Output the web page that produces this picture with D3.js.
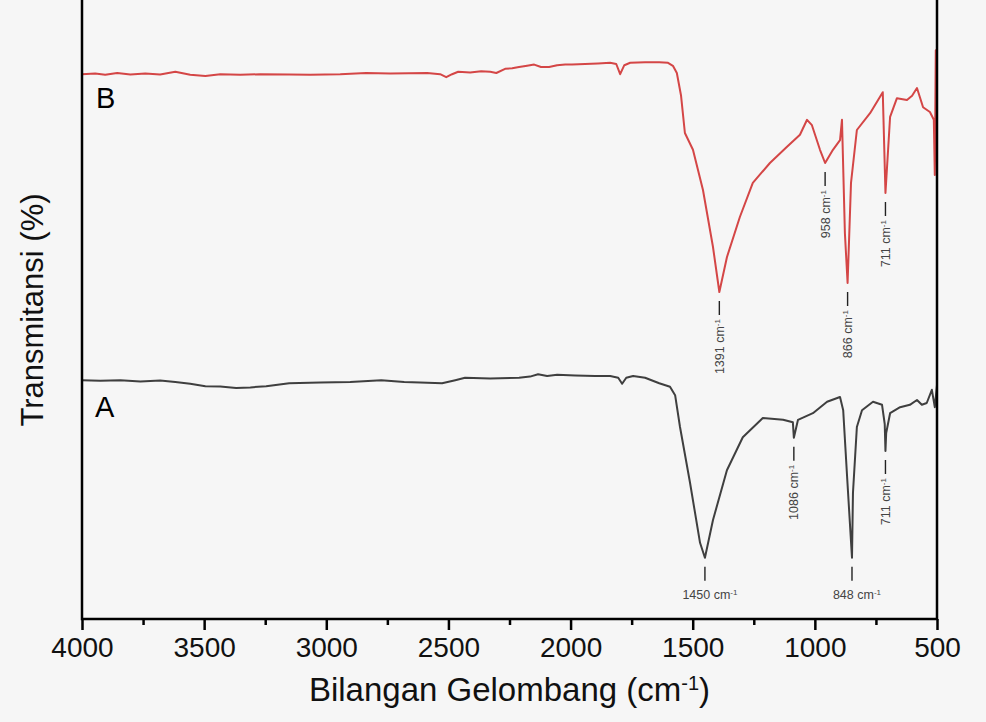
<!DOCTYPE html>
<html>
<head>
<meta charset="utf-8">
<script src="https://cdn.jsdelivr.net/npm/d3@7"></script>
<style>
  body { margin: 0; background: #f6f6f6; }
  svg { display: block; font-family: "Liberation Sans", Arial, sans-serif; }
</style>
</head>
<body>
<svg width="986" height="722"></svg>
<script>
// spectrum B (red) : [wavenumber cm-1, transmittance]
var seriesB = [
  [4000,90.8],[3946,90.9],[3905,90.7],[3856,91.0],[3802,90.75],[3741,90.9],[3680,90.75],
  [3618,91.2],[3557,90.7],[3495,90.5],[3434,90.8],[3352,90.7],[3270,90.8],[3152,90.75],
  [3066,90.7],[2943,90.8],[2837,91.0],[2738,90.9],[2587,91.0],[2534,90.8],[2509,90.3],
  [2485,90.8],[2460,91.2],[2411,91.1],[2366,91.3],[2329,91.2],[2304,91.0],[2268,91.7],
  [2239,91.8],[2211,92.0],[2178,92.2],[2149,92.4],[2121,92.0],[2088,92.0],[2055,92.3],
  [2022,92.4],[1994,92.4],[1941,92.5],[1888,92.6],[1838,92.7],[1813,92.5],[1797,90.8],
  [1780,92.3],[1756,92.7],[1695,92.8],[1637,92.8],[1601,92.7],[1581,92.2],[1565,91.0],
  [1548,87.3],[1532,81.0],[1499,78.2],[1458,71.5],[1417,62.0],[1391,54.5],[1360,60.3],
  [1307,67.0],[1254,72.7],[1184,76.0],[1114,78.7],[1061,80.7],[1032,83.2],[1012,82.3],
  [979,78.2],[958,76.0],[926,78.2],[897,79.8],[889,83.2],[877,64.3],[866,56.0],[852,72.7],
  [828,81.5],[774,84.3],[722,87.8],[711,71.0],[692,83.7],[664,86.8],[623,86.5],[602,87.2],
  [582,88.5],[557,85.3],[529,84.5],[513,83.2],[509,74.0],[505,94.8],[500,74.8]
];

// spectrum A (dark grey)
var seriesA = [
  [4000,39.8],[3925,39.7],[3843,39.8],[3761,39.6],[3680,39.75],[3618,39.5],[3557,39.2],
  [3495,38.8],[3434,38.75],[3369,38.5],[3311,38.6],[3246,38.8],[3152,39.3],[3025,39.4],
  [2902,39.5],[2775,39.8],[2681,39.5],[2616,39.4],[2526,39.3],[2472,39.8],[2432,40.2],
  [2329,40.1],[2211,40.2],[2166,40.4],[2133,40.8],[2096,40.5],[2055,40.7],[1981,40.6],
  [1900,40.5],[1838,40.5],[1805,40.2],[1789,39.2],[1772,40.2],[1744,40.5],[1695,40.2],
  [1637,39.3],[1593,38.7],[1572,37.3],[1552,32.0],[1511,22.7],[1470,12.7],[1450,10.2],
  [1417,16.5],[1360,24.8],[1295,30.3],[1213,33.5],[1130,33.2],[1090,32.8],[1086,30.2],
  [1069,33.2],[1008,34.3],[950,36.2],[897,37.0],[884,34.8],[868,23.7],[848,10.2],[844,21.0],
  [828,32.0],[807,34.8],[762,36.2],[725,35.7],[714,32.5],[711,28.0],[708,31.0],[692,34.3],
  [651,35.3],[611,35.7],[582,36.5],[562,35.7],[542,36.0],[521,38.2],[509,35.3],[500,39.0]
];

// peak annotations
var peaksB = [
  {wn: 1391, text: "1391", dir: "v"},
  {wn: 958,  text: "958",  dir: "v"},
  {wn: 866,  text: "866",  dir: "v"},
  {wn: 711,  text: "711",  dir: "v"}
];
var peaksA = [
  {wn: 1450, text: "1450", dir: "h"},
  {wn: 1086, text: "1086", dir: "v"},
  {wn: 848,  text: "848",  dir: "h"},
  {wn: 711,  text: "711",  dir: "v"}
];

var majorTicks = [4000, 3500, 3000, 2500, 2000, 1500, 1000, 500];
var minorTicks = [3750, 3250, 2750, 2250, 1750, 1250, 750];

var svg = d3.select("svg");
var plotLeft = 82, plotRight = 937, plotBottom = 619, plotTop = 19;

var x = d3.scaleLinear().domain([4000, 500]).range([plotLeft, plotRight]);
var y = d3.scaleLinear().domain([0, 100]).range([plotBottom, plotTop]);

var line = d3.line()
  .x(function(d) { return x(d[0]); })
  .y(function(d) { return y(d[1]); });

svg.append("path")
  .datum(seriesA)
  .attr("d", line)
  .attr("fill", "none")
  .attr("stroke", "#3f3f3f")
  .attr("stroke-width", 2)
  .attr("stroke-linejoin", "round");

svg.append("path")
  .datum(seriesB)
  .attr("d", line)
  .attr("fill", "none")
  .attr("stroke", "#d44646")
  .attr("stroke-width", 2)
  .attr("stroke-linejoin", "round");

// peak labels
function addPeaks(peaks, series) {
  peaks.forEach(function(p) {
    var pt = series.reduce(function(a, b) {
      return Math.abs(b[0] - p.wn) < Math.abs(a[0] - p.wn) ? b : a;
    });
    var px = x(pt[0]), py = y(pt[1]);
    var y0 = py + 9, y1 = py + 23;
    svg.append("line")
      .attr("x1", px).attr("x2", px)
      .attr("y1", y0).attr("y2", y1)
      .attr("stroke", "#222")
      .attr("stroke-width", 1.4);
    var t = svg.append("text")
      .attr("font-size", 12.5)
      .attr("fill", "#444");
    if (p.dir == "v") {
      t.attr("text-anchor", "end")
        .attr("transform", "translate(" + (px + 4.5) + "," + (y1 + 4) + ") rotate(-90)");
    } else {
      t.attr("text-anchor", "middle")
        .attr("x", px + 5)
        .attr("y", y1 + 18);
    }
    t.append("tspan").text(p.text + " cm");
    t.append("tspan").attr("font-size", 8).attr("baseline-shift", "super").text("-1");
  });
}
addPeaks(peaksB, seriesB);
addPeaks(peaksA, seriesA);

// series letters
svg.append("text").attr("x", 96).attr("y", 108).attr("font-size", 29).text("B");
svg.append("text").attr("x", 95).attr("y", 417).attr("font-size", 29).text("A");

// frame
svg.append("path")
  .attr("d", "M" + plotLeft + ",-5V" + plotBottom + "H" + plotRight + "V-5")
  .attr("fill", "none")
  .attr("stroke", "#000")
  .attr("stroke-width", 2.5);

// x axis ticks
var xAxis = svg.append("g")
  .attr("transform", "translate(0," + plotBottom + ")")
  .call(d3.axisBottom(x).tickValues(majorTicks).tickSize(11).tickFormat(d3.format("d")));
xAxis.select(".domain").remove();
xAxis.selectAll(".tick line").attr("stroke", "#000").attr("stroke-width", 2.5);
xAxis.selectAll(".tick text")
  .attr("y", 38).attr("dy", null)
  .attr("fill", "#111")
  .attr("font-size", 28)
  .attr("font-family", "Liberation Sans, Arial, sans-serif");

var xMinor = svg.append("g")
  .attr("transform", "translate(0," + plotBottom + ")")
  .call(d3.axisBottom(x).tickValues(minorTicks).tickSize(6).tickFormat(""));
xMinor.select(".domain").remove();
xMinor.selectAll(".tick line").attr("stroke", "#000").attr("stroke-width", 2.5);

// axis titles
var xt = svg.append("text")
  .attr("x", (plotLeft + plotRight) / 2)
  .attr("y", 701)
  .attr("text-anchor", "middle")
  .attr("font-size", 33)
  .attr("fill", "#111");
xt.append("tspan").text("Bilangan Gelombang (cm");
xt.append("tspan").attr("font-size", 20).attr("baseline-shift", "super").text("-1");
xt.append("tspan").text(")");

svg.append("text")
  .attr("transform", "translate(43,310) rotate(-90)")
  .attr("text-anchor", "middle")
  .attr("font-size", 31)
  .attr("fill", "#111")
  .text("Transmitansi (%)");
</script>
</body>
</html>
